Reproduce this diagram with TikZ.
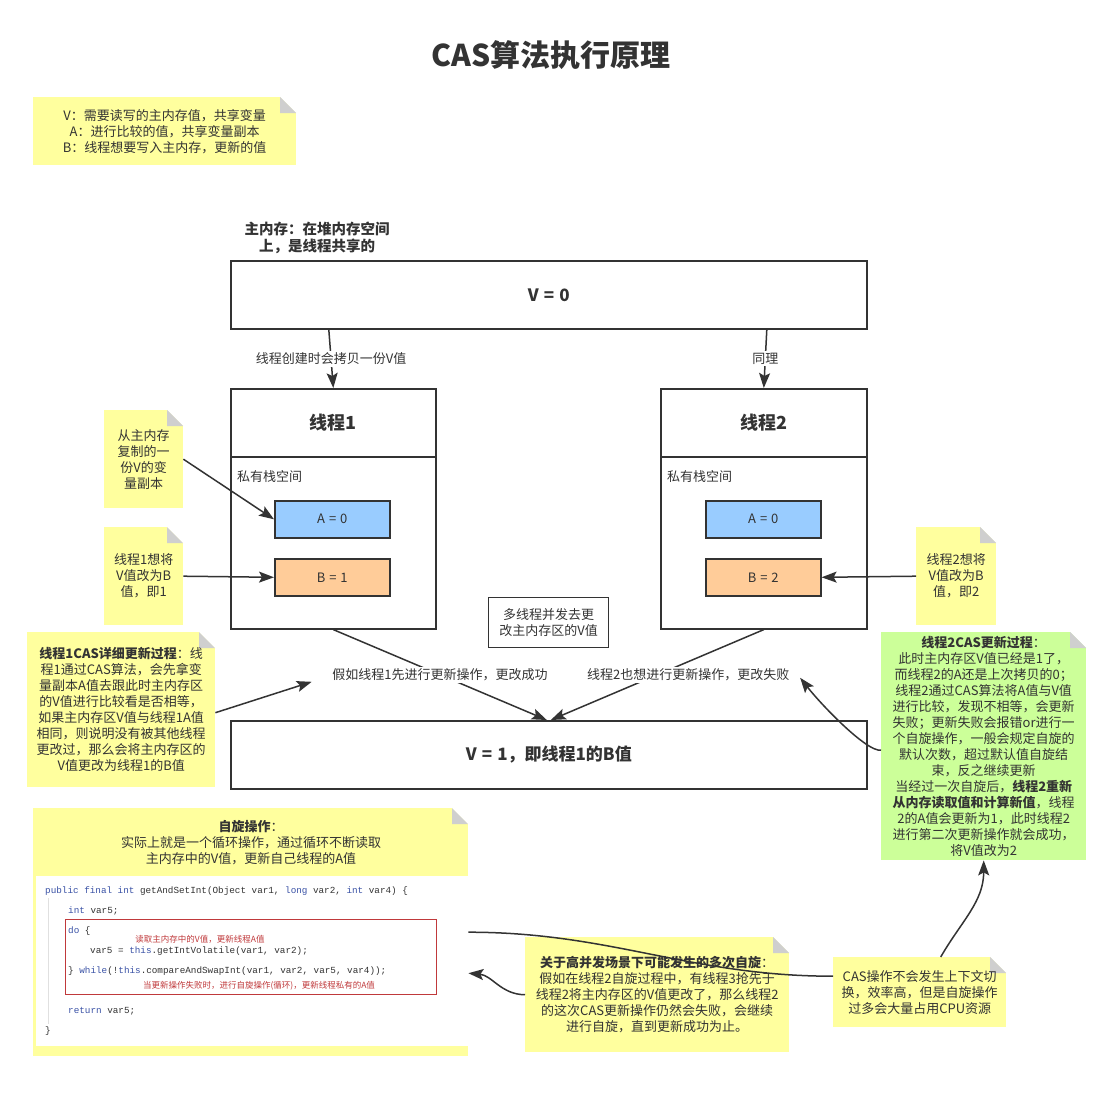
\documentclass[tikz,border=0pt]{standalone}
\usepackage{fontspec}
\setmainfont{Noto Sans CJK SC}
\newfontfamily\codefont{Liberation Mono}
\usetikzlibrary{positioning, arrows.meta}

\definecolor{linec}{HTML}{333333}
\definecolor{txt}{HTML}{333333}
\definecolor{notey}{HTML}{FFFF9E}
\definecolor{noteg}{HTML}{CCFF99}
\definecolor{foldc}{HTML}{CFCFCF}
\definecolor{varA}{HTML}{99CCFF}
\definecolor{varB}{HTML}{FFCC99}
\definecolor{kw}{HTML}{3A52A6}
\definecolor{redc}{HTML}{C0393B}

\newcommand\notefont{\fontsize{13}{16}\selectfont}
\newcommand\bigfont{\fontsize{17}{20}\selectfont\bfseries}
\newcommand\headfont{\fontsize{18}{20}\selectfont\bfseries}
\newcommand\eq{\hspace{.3em}=\hspace{.3em}} % roomy equals sign

\tikzset{
>={Stealth[length=15pt, width=11pt, inset=3pt]}, % filled arrow heads
arr/.style={->, draw=linec, line width=1.5pt}, % connectors
box/.style={draw=linec, line width=1.6pt, fill=white, text=txt, inner sep=0pt, anchor=north west},
var/.style={box, minimum width=115pt, minimum height=37pt, font=\notefont},
lbl/.style={fill=white, text=txt, font=\notefont, inner sep=2pt}, % texts on connectors
plain/.style={text=txt, font=\notefont, inner sep=0pt},
note/.style={fill=notey, text=txt, font=\notefont, align=center, inner sep=0pt, anchor=north west,
  path picture={
    \fill[white] ([xshift=-16pt]path picture bounding box.north east) -- (path picture bounding box.north east)
      -- ([yshift=-16pt]path picture bounding box.north east) -- cycle;
    \fill[foldc] ([xshift=-16pt]path picture bounding box.north east) -- ([xshift=-16pt,yshift=-16pt]path picture bounding box.north east)
      -- ([yshift=-16pt]path picture bounding box.north east) -- cycle;
  }}, % yellow sticky note with a folded corner
code/.style={anchor=west, inner sep=0pt, font=\codefont\fontsize{9.3}{11}\selectfont, text=black!80},
cmt/.style={inner sep=0pt, font=\fontsize{8.5}{10}\selectfont, text=redc},
}

\begin{document}
\begin{tikzpicture}[x=1pt, y=-1pt]
\useasboundingbox[fill=white] (0,0) rectangle (1111,1094);

\node[font=\fontsize{30}{36}\selectfont\bfseries, text=txt] (title) at (551,55) {CAS算法执行原理};
\node[note, minimum width=263pt, minimum height=68pt] (legend) at (33,97)
  {V：需要读写的主内存值，共享变量\\A：进行比较的值，共享变量副本\\B：线程想要写入主内存，更新的值};

% main memory
\node[font=\fontsize{14.5}{17}\selectfont\bfseries, align=center, text=txt] (mainlbl) at (317,238) {主内存：在堆内存空间\\上，是线程共享的};
\node[box, minimum width=636pt, minimum height=68pt, font=\bigfont] (main) at (230,260) {V\eq 0};

% thread 1
\node[box, minimum width=205pt, minimum height=68pt, font=\headfont] (t1head) at (230,388) {线程1};
\node[box, minimum width=205pt, minimum height=172pt] (t1body) at (230,456) {};
\node[plain, anchor=west] (t1stack) at (237,477) {私有栈空间};
\node[var, fill=varA] (a1) at (274,500) {A\eq 0};
\node[var, fill=varB] (b1) at (274,558) {B\eq 1};

% thread 2
\node[box, minimum width=206pt, minimum height=68pt, font=\headfont] (t2head) at (660,388) {线程2};
\node[box, minimum width=206pt, minimum height=172pt] (t2body) at (660,456) {};
\node[plain, anchor=west] (t2stack) at (667,477) {私有栈空间};
\node[var, fill=varA] (a2) at (705,500) {A\eq 0};
\node[var, fill=varB] (b2) at (705,558) {B\eq 2};

\node[note, minimum width=79pt, minimum height=98pt] (copynote) at (104,410) {从主内存\\复制的一\\份V的变\\量副本};
\node[note, minimum width=79pt, minimum height=98pt] (b1note) at (104,527) {线程1想将\\V值改为B\\值，即1};
\node[note, minimum width=80pt, minimum height=98pt] (b2note) at (916,527) {线程2想将\\V值改为B\\值，即2};
\node[box, line width=1.3pt, minimum width=120pt, minimum height=50pt, align=center, font=\notefont] (multi) at (488,597)
  {多线程并发去更\\改主内存区的V值};

\node[note, minimum width=188pt, minimum height=155pt] (cas1) at (27,632)
  {\textbf{线程1CAS详细更新过程}：线\\程1通过CAS算法，会先拿变\\量副本A值去跟此时主内存区\\的V值进行比较看是否相等，\\如果主内存区V值与线程1A值\\相同，则说明没有被其他线程\\更改过，那么会将主内存区的\\V值更改为线程1的B值};
\node[box, minimum width=636pt, minimum height=68pt, font=\bigfont] (v1) at (230,720) {V\eq 1，即线程1的B值};
\node[note, fill=noteg, minimum width=205pt, minimum height=228pt] (cas2) at (881,632)
  {\textbf{线程2CAS更新过程}：\\此时主内存区V值已经是1了，\\而线程2的A还是上次拷贝的0；\\线程2通过CAS算法将A值与V值\\进行比较，发现不相等，会更新\\失败；更新失败会报错or进行一\\个自旋操作，一般会规定自旋的\\默认次数，超过默认值自旋结\\束，反之继续更新\\当经过一次自旋后，\textbf{线程2重新}\\\textbf{从内存读取值和计算新值}，线程\\2的A值会更新为1，此时线程2\\进行第二次更新操作就会成功，\\将V值改为2};

% spin note with the code
\node[note, minimum width=435pt, minimum height=248pt] (spin) at (33,808) {};
\node[plain, align=center, font=\notefont] (spintxt) at (251,843)
  {\textbf{自旋操作}：\\实际上就是一个循环操作，通过循环不断读取\\主内存中的V值，更新自己线程的A值};
\node[fill=white, inner sep=0pt, anchor=north west, minimum width=432pt, minimum height=170pt] (codebg) at (36,876) {};
\draw[black!12, line width=0.8pt] (48,898) -- (48,1024);
\node[draw=redc, line width=0.9pt, inner sep=0pt, anchor=north west, minimum width=371pt, minimum height=75pt] (loopbox) at (65,919) {};
\node[code] (c1) at (45,891) {\textcolor{kw}{public final int} getAndSetInt(Object var1, \textcolor{kw}{long} var2, \textcolor{kw}{int} var4) \{};
\node[code] (c2) at (68,911) {\textcolor{kw}{int} var5;};
\node[code] (c3) at (68,931) {\textcolor{kw}{do} \{};
\node[code] (c4) at (90,951) {var5 = \textcolor{kw}{this}.getIntVolatile(var1, var2);};
\node[code] (c5) at (68,971) {\} \textcolor{kw}{while}(!\textcolor{kw}{this}.compareAndSwapInt(var1, var2, var5, var4));};
\node[code] (c6) at (68,1011) {\textcolor{kw}{return} var5;};
\node[code] (c7) at (45,1031) {\}};
\node[cmt] (cm1) at (200,939) {读取主内存中的V值，更新线程A值};
\node[cmt] (cm2) at (259,986) {当更新操作失败时，进行自旋操作(循环)，更新线程私有的A值};

\node[note, minimum width=264pt, minimum height=115pt] (multispin) at (525,937)
  {\textbf{关于高并发场景下可能发生的多次自旋}：\\假如在线程2自旋过程中，有线程3抢先于\\线程2将主内存区的V值更改了，那么线程2\\的这次CAS更新操作仍然会失败，会继续\\进行自旋，直到更新成功为止。};
\node[note, minimum width=173pt, minimum height=70pt] (cost) at (833,957)
  {CAS操作不会发生上下文切\\换，效率高，但是自旋操作\\过多会大量占用CPU资源};

% connectors
\draw[arr] ([xshift=-220pt]main.south) -- (t1head.north) node[lbl, pos=0.5] (lblcopy) {线程创建时会拷贝一份V值};
\draw[arr] ([xshift=218pt]main.south) -- (t2head.north) node[lbl, pos=0.5] (lblsame) {同理};
\draw[arr] (copynote.east) -- (a1.west);
\draw[arr] (b1note.east) -- (b1.west);
\draw[arr] (b2note.west) -- (b2.east);
\draw[arr] (t1body.south) -- ([xshift=-2pt]v1.north) node[lbl, pos=0.5] (lbl1) {假如线程1先进行更新操作，更改成功};
\draw[arr] (t2body.south) -- ([xshift=2pt]v1.north) node[lbl, pos=0.5, xshift=31pt] (lbl2) {线程2也想进行更新操作，更改失败};
\draw[arr] ([yshift=-3pt]cas1.east) -- ([xshift=-18pt,yshift=-7pt]lbl1.west);
\draw[arr] ([yshift=-4pt]cas2.west) .. controls +(-14,2) and +(22,28) .. ([xshift=8pt,yshift=-3pt]lbl2.east);
\draw[arr] ([xshift=21pt]cost.north) to[out=60, in=-90] (cas2.south);
\draw[arr] (multispin.west) to[out=180, in=-5] ([yshift=-41pt]spin.east);
\draw[draw=linec, line width=1.5pt] (spin.east) to[out=0, in=180] ([yshift=16pt]cost.west);
\end{tikzpicture}
\end{document}
